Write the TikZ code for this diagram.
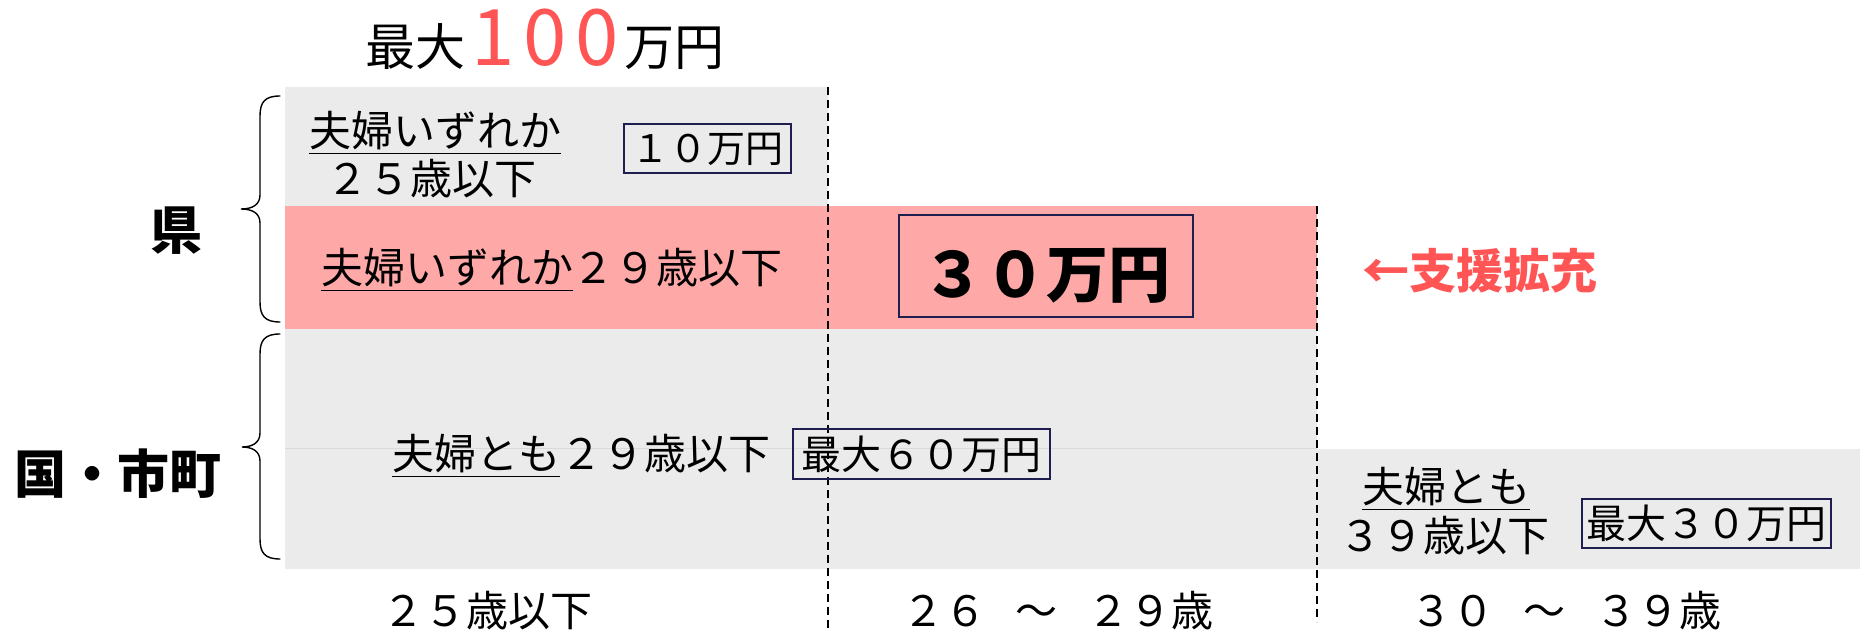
\documentclass[tikz,border=0pt]{standalone}
\usepackage{fontspec}
\setmainfont{Noto Sans CJK JP}
\definecolor{bandgrey}{HTML}{EBEBEB}
\definecolor{bandpink}{HTML}{FFA8A8}
\definecolor{accred}{HTML}{FF5555}
\definecolor{boxnavy}{HTML}{1E1E50}
\definecolor{faintline}{HTML}{DADADA}
\tikzset{
  txt/.style={inner sep=0, anchor=base, font=\fontsize{21pt}{25pt}\selectfont},
  bigbold/.style={inner sep=0, anchor=base, font=\fontsize{26pt}{30pt}\selectfont\bfseries},
  mbox/.style={draw=boxnavy, line width=1pt, inner sep=0, font=\fontsize{20pt}{24pt}\selectfont, text height=16.5pt, text depth=1.3pt},
  dashline/.style={line width=0.6pt, dash pattern=on 4pt off 2.5pt},
  bracepath/.style={line width=0.7pt, line cap=round}
}
\begin{document}
\begin{tikzpicture}[x=0.5pt,y=-0.5pt]
\useasboundingbox (0,0) rectangle (1860,630);
% bands
\fill[bandgrey] (285,87) rectangle (828,206);
\fill[bandpink] (285,206) rectangle (1317,329);
\fill[bandgrey] (285,329) rectangle (1317,449);
\fill[bandgrey] (285,449) rectangle (1860,569);
\draw[faintline, line width=0.5pt] (285,449) -- (1317,449);
% dashed separators
\draw[dashline] (828,87) -- (828,630);
\draw[dashline] (1317,206) -- (1317,622);
% braces
\draw[bracepath] (280,96) .. controls (265,96) and (260,102) .. (260,116) -- (260,195)
  .. controls (260,205) and (252,209) .. (241,209) .. controls (252,209) and (260,213) .. (260,223)
  -- (260,302) .. controls (260,316) and (265,322) .. (280,322);
\draw[bracepath] (280,334) .. controls (265,334) and (260,340) .. (260,354) -- (260,433)
  .. controls (260,443) and (252,447) .. (242,447) .. controls (252,447) and (260,451) .. (260,461)
  -- (260,539) .. controls (260,553) and (265,559) .. (280,559);
% title
\node[inner sep=0, anchor=base] (title) at (545,66)
  {{\fontsize{25pt}{29pt}\selectfont 最大}\kern3pt{\color{accred}\fontsize{39pt}{42pt}\selectfont 1\kern4.5pt 0\kern4.5pt 0}\kern3pt{\fontsize{25pt}{29pt}\selectfont 万円}};
% side labels
\node[bigbold] (ken) at (176,250) {県};
\node[bigbold] (kuni) at (118,494) {国・市町};
% prefecture, top band
\node[txt] (a1) at (435,147) {\underline{夫婦いずれか}};
\node[txt] (a2) at (431,195) {２５歳以下};
\node[mbox, minimum width=83.5pt, minimum height=24.5pt, font=\fontsize{19pt}{23pt}\selectfont, text height=15.6pt, text depth=1.2pt] (b10) at (707.5,148.5) {１０万円};
% pink band
\node[txt] (b1) at (552,284) {\underline{夫婦いずれか}２９歳以下};
\node[draw=boxnavy, line width=1pt, inner sep=0, minimum width=147pt, minimum height=51pt, font=\fontsize{31pt}{36pt}\selectfont\bfseries, text height=32.5pt, text depth=0.9pt] (b30) at (1046,266) {３０万円};
\node[inner sep=0, anchor=base, text=accred, font=\fontsize{23.5pt}{28pt}\selectfont\bfseries] (sien) at (1480,289) {←支援拡充};
% national / municipal
\node[txt] (c1) at (581,470) {\underline{夫婦とも}２９歳以下};
\node[mbox, minimum width=128.5pt, minimum height=25pt] (b60) at (921.5,454) {最大６０万円};
\node[txt] (d1) at (1446,503) {\underline{夫婦とも}};
\node[txt] (d2) at (1444,552) {３９歳以下};
\node[mbox, minimum width=124.5pt, minimum height=24.5pt] (b30b) at (1706.5,523.5) {最大３０万円};
% age axis
\node[txt] (e1) at (487,627) {２５歳以下};
\node[txt] (e2) at (1058,627) {２６\hspace{0.7em}～\hspace{0.7em}２９歳};
\node[txt] (e3) at (1566,627) {３０\hspace{0.7em}～\hspace{0.7em}３９歳};
\end{tikzpicture}
\end{document}
